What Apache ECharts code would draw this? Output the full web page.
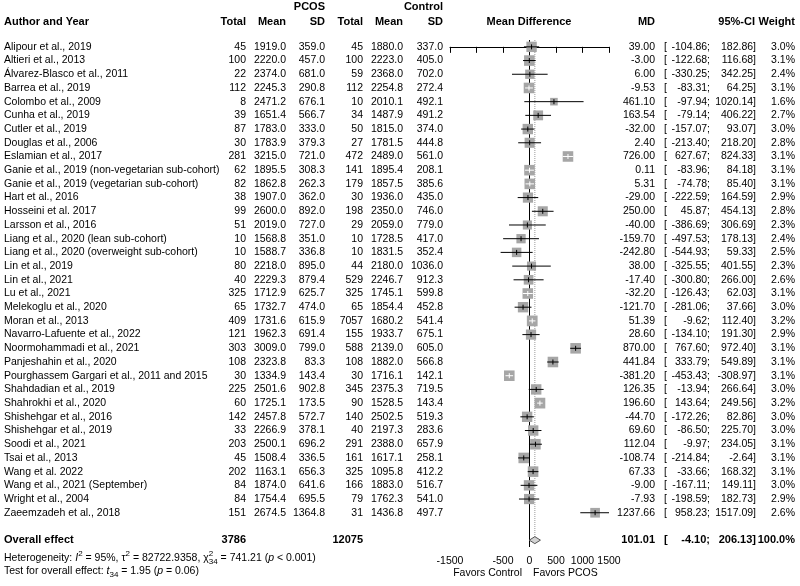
<!DOCTYPE html>
<html>
<head>
<meta charset="utf-8">
<script src="https://cdn.jsdelivr.net/npm/echarts@6/dist/echarts.min.js"></script>
<style>
html,body{margin:0;padding:0;background:#fff;}
#main{width:800px;height:586px;}
</style>
</head>
<body>
<div id="main"></div>
<script>
// study table
var authors = ['Alipour et al., 2019', 'Altieri et al., 2013', 'Álvarez-Blasco et al., 2011', 'Barrea et al., 2019',
  'Colombo et al., 2009', 'Cunha et al., 2019', 'Cutler et al., 2019', 'Douglas et al., 2006', 'Eslamian et al., 2017',
  'Ganie et al., 2019 (non-vegetarian sub-cohort)', 'Ganie et al., 2019 (vegetarian sub-cohort)', 'Hart et al., 2016',
  'Hosseini et al. 2017', 'Larsson et al., 2016', 'Liang et al., 2020 (lean sub-cohort)',
  'Liang et al., 2020 (overweight sub-cohort)', 'Lin et al., 2019', 'Lin et al., 2021', 'Lu et al., 2021',
  'Melekoglu et al., 2020', 'Moran et al., 2013', 'Navarro-Lafuente et al., 2022', 'Noormohammadi et al., 2021',
  'Panjeshahin et al., 2020', 'Pourghassem Gargari et al., 2011 and 2015', 'Shahdadian et al., 2019',
  'Shahrokhi et al., 2020', 'Shishehgar et al., 2016', 'Shishehgar et al., 2019', 'Soodi et al., 2021',
  'Tsai et al., 2013', 'Wang et al. 2022', 'Wang et al., 2021 (September)', 'Wright et al., 2004',
  'Zaeemzadeh et al., 2018'];
var pcosN = [45, 100, 22, 112, 8, 39, 87, 30, 281, 62, 82, 38, 99, 51, 10, 10, 80, 40, 325, 65, 409, 121, 303, 108, 30, 225, 60, 142, 33, 203, 45, 202, 84, 84, 151];
var pcosMean = [1919.0, 2220.0, 2374.0, 2245.3, 2471.2, 1651.4, 1783.0, 1783.9, 3215.0, 1895.5, 1862.8, 1907.0, 2600.0, 2019.0, 1568.8, 1588.7, 2218.0, 2229.3, 1712.9, 1732.7, 1731.6, 1962.3, 3009.0, 2323.8, 1334.9, 2501.6, 1725.1, 2457.8, 2266.9, 2500.1, 1508.4, 1163.1, 1874.0, 1754.4, 2674.5];
var pcosSD = [359.0, 457.0, 681.0, 290.8, 676.1, 566.7, 333.0, 379.3, 721.0, 308.3, 262.3, 362.0, 892.0, 727.0, 351.0, 336.8, 895.0, 879.4, 625.7, 474.0, 615.9, 691.4, 799.0, 83.3, 143.4, 902.8, 173.5, 572.7, 378.1, 696.2, 336.5, 656.3, 641.6, 695.5, 1364.8];
var ctrlN = [45, 100, 59, 112, 10, 34, 50, 27, 472, 141, 179, 30, 198, 29, 10, 10, 44, 529, 325, 65, 7057, 155, 588, 108, 30, 345, 90, 140, 40, 291, 161, 325, 166, 79, 31];
var ctrlMean = [1880.0, 2223.0, 2368.0, 2254.8, 2010.1, 1487.9, 1815.0, 1781.5, 2489.0, 1895.4, 1857.5, 1936.0, 2350.0, 2059.0, 1728.5, 1831.5, 2180.0, 2246.7, 1745.1, 1854.4, 1680.2, 1933.7, 2139.0, 1882.0, 1716.1, 2375.3, 1528.5, 2502.5, 2197.3, 2388.0, 1617.1, 1095.8, 1883.0, 1762.3, 1436.8];
var ctrlSD = [337.0, 405.0, 702.0, 272.4, 492.1, 491.2, 374.0, 444.8, 561.0, 208.1, 385.6, 435.0, 746.0, 779.0, 417.0, 352.4, 1036.0, 912.3, 599.8, 452.8, 541.4, 675.1, 605.0, 566.8, 142.1, 719.5, 143.4, 519.3, 283.6, 657.9, 258.1, 412.2, 516.7, 541.0, 497.7];
var md = [39.00, -3.00, 6.00, -9.53, 461.10, 163.54, -32.00, 2.40, 726.00, 0.11, 5.31, -29.00, 250.00, -40.00, -159.70, -242.80, 38.00, -17.40, -32.20, -121.70, 51.39, 28.60, 870.00, 441.84, -381.20, 126.35, 196.60, -44.70, 69.60, 112.04, -108.74, 67.33, -9.00, -7.93, 1237.66];
var ciLo = [-104.86, -122.68, -330.25, -83.31, -97.94, -79.14, -157.07, -213.40, 627.67, -83.96, -74.78, -222.59, 45.87, -386.69, -497.53, -544.93, -325.55, -300.80, -126.43, -281.06, -9.62, -134.10, 767.60, 333.79, -453.43, -13.94, 143.64, -172.26, -86.50, -9.97, -214.84, -33.66, -167.11, -198.59, 958.23];
var ciHi = [182.86, 116.68, 342.25, 64.25, 1020.14, 406.22, 93.07, 218.20, 824.33, 84.18, 85.40, 164.59, 454.13, 306.69, 178.13, 59.33, 401.55, 266.00, 62.03, 37.66, 112.40, 191.30, 972.40, 549.89, -308.97, 266.64, 249.56, 82.86, 225.70, 234.05, -2.64, 168.32, 149.11, 182.73, 1517.09];
var weight = [3.0, 3.1, 2.4, 3.1, 1.6, 2.7, 3.0, 2.8, 3.1, 3.1, 3.1, 2.9, 2.8, 2.3, 2.4, 2.5, 2.3, 2.6, 3.1, 3.0, 3.2, 2.9, 3.1, 3.1, 3.1, 3.0, 3.2, 3.0, 3.0, 3.1, 3.1, 3.1, 3.0, 2.9, 2.6];

// pooled result
var totalPcos = 3786;
var totalCtrl = 12075;
var overallMD = 101.01;
var overallLo = -4.10;
var overallHi = 206.13;
var overallRow = 36;
var i2 = '95%', tau2 = '82722.9358', chi2 = '741.21', dfHet = '34', pHet = '< 0.001';
var tStat = '1.95', pOverall = '= 0.06';

var axisTicks = [-1500, -1000, -500, 0, 500, 1000, 1500];
var hiddenTickLabels = [-1000];

var FONT = '"Liberation Sans", Arial, sans-serif';
var FS = 10.5;   // body
var FSB = 11;    // bold headers
var COL = {author: 4, pN: 246, pM: 286, pS: 325, cN: 363, cM: 403, cS: 443,
  md: 655, ciB: 664, ciL: 710, ciH: 756, w: 795};

function txt(x, y, s, align, bold) {
  return {type: 'text', x: x, y: y, style: {text: s, align: align, verticalAlign: 'middle',
    fontFamily: FONT, fontSize: bold ? FSB : FS, fontWeight: bold ? 'bold' : 'normal', fill: '#000'}};
}

var measure = document.createElement('canvas').getContext('2d');
function runText(parts, x0, y) {
  var x = x0, out = [];
  parts.forEach(function (p) {
    var size = p.size || FS;
    var font = (p.italic ? 'italic ' : '') + size + 'px ' + FONT;
    measure.font = font;
    out.push({type: 'text', x: x, y: y + (p.dy || 0), style: {text: p.t, font: font, fill: '#000', verticalAlign: 'middle'}});
    if (!p.stack) x += measure.measureText(p.t).width;
  });
  return out;
}

var myChart = echarts.init(document.getElementById('main'));

var tableData = authors.map(function (a, i) { return [0, i]; });
tableData.push([0, overallRow]);
var forestData = md.map(function (m, i) { return [m, ciLo[i], ciHi[i], weight[i], i]; });

var headers = [
  txt(COL.pS, 7, 'PCOS', 'right', true),
  txt(COL.cS, 7, 'Control', 'right', true),
  txt(COL.author, 22, 'Author and Year', 'left', true),
  txt(COL.pN, 22, 'Total', 'right', true),
  txt(COL.pM, 22, 'Mean', 'right', true),
  txt(COL.pS, 22, 'SD', 'right', true),
  txt(COL.cN, 22, 'Total', 'right', true),
  txt(COL.cM, 22, 'Mean', 'right', true),
  txt(COL.cS, 22, 'SD', 'right', true),
  txt(529, 22, 'Mean Difference', 'center', true),
  txt(COL.md, 22, 'MD', 'right', true),
  txt(755, 22, '95%-CI', 'right', true),
  txt(COL.w, 22, 'Weight', 'right', true),
  txt(522, 573, 'Favors Control', 'right', false),
  txt(533, 573, 'Favors PCOS', 'left', false)
];
var hetLine = runText([
  {t: 'Heterogeneity: '}, {t: 'I', italic: true}, {t: '2', size: 8, dy: -4}, {t: ' = ' + i2 + ', τ'},
  {t: '2', size: 8, dy: -4}, {t: ' = ' + tau2 + ', χ'}, {t: '2', size: 8, dy: -4, stack: true},
  {t: dfHet, size: 8, dy: 4}, {t: ' = ' + chi2 + ' ('}, {t: 'p', italic: true}, {t: ' ' + pHet + ')'}
], COL.author, 558);
var testLine = runText([
  {t: 'Test for overall effect: '}, {t: 't', italic: true}, {t: dfHet, size: 8, dy: 4},
  {t: ' = ' + tStat + ' ('}, {t: 'p', italic: true}, {t: ' ' + pOverall + ')'}
], COL.author, 571);

var option = {
  backgroundColor: '#fff',
  animation: false,
  grid: {left: 450, right: 191, top: 40, bottom: 39},
  xAxis: {
    type: 'value', min: -1500, max: 1500, interval: 500,
    axisLine: {show: true, lineStyle: {color: '#000', width: 1}},
    axisTick: {show: true, length: 6, lineStyle: {color: '#000'}},
    axisLabel: {color: '#000', fontSize: FS, fontFamily: FONT, margin: 9,
      formatter: function (v) { return hiddenTickLabels.indexOf(v) >= 0 ? '' : String(v); }},
    splitLine: {show: false}
  },
  yAxis: {type: 'value', min: -0.5, max: 36.5, inverse: true, show: false},
  graphic: headers.concat(hetLine, testLine),
  series: [
    {
      type: 'line', silent: true, symbol: 'none', z: 1,
      lineStyle: {color: '#000', width: 1},
      data: [[0, -0.5], [0, 36.5]]
    },
    {
      type: 'line', silent: true, symbol: 'none', z: 1,
      lineStyle: {color: '#9a9a9a', width: 1, type: 'dotted'},
      data: [[overallMD, -0.5], [overallMD, overallRow]]
    },
    {
      type: 'custom', silent: true, z: 3,
      encode: {x: [0, 1, 2], y: 4},
      data: forestData,
      renderItem: function (params, api) {
        var row = api.value(4);
        var p = api.coord([api.value(0), row]);
        var l = api.coord([Math.max(api.value(1), -1500), row]);
        var h = api.coord([Math.min(api.value(2), 1500), row]);
        var side = 6 * Math.sqrt(api.value(3));
        var col = (h[0] - l[0]) <= side ? '#fff' : '#000';
        return {type: 'group', children: [
          {type: 'rect', shape: {x: p[0] - side / 2, y: p[1] - side / 2, width: side, height: side},
            style: {fill: '#a6a6a6'}},
          {type: 'line', shape: {x1: l[0], y1: p[1], x2: h[0], y2: p[1]}, style: {stroke: col, lineWidth: 1}},
          {type: 'line', shape: {x1: p[0], y1: p[1] - 2.5, x2: p[0], y2: p[1] + 2.5}, style: {stroke: col, lineWidth: 1}}
        ]};
      }
    },
    {
      type: 'custom', silent: true, z: 3,
      encode: {x: [0, 1, 2], y: 3},
      data: [[overallMD, overallLo, overallHi, overallRow]],
      renderItem: function (params, api) {
        var row = api.value(3);
        var c = api.coord([api.value(0), row]);
        var l = api.coord([api.value(1), row]);
        var h = api.coord([api.value(2), row]);
        return {type: 'polygon', shape: {points: [[l[0], c[1]], [c[0], c[1] - 3.5], [h[0], c[1]], [c[0], c[1] + 3.5]]},
          style: {fill: '#d3d3d3', stroke: '#555', lineWidth: 1}};
      }
    },
    {
      type: 'custom', silent: true, z: 4,
      encode: {x: 0, y: 1},
      data: tableData,
      renderItem: function (params, api) {
        var i = params.dataIndex;
        var y = api.coord([0, api.value(1)])[1];
        if (i < authors.length) {
          return {type: 'group', children: [
            txt(COL.author, y, authors[i], 'left'),
            txt(COL.pN, y, String(pcosN[i]), 'right'),
            txt(COL.pM, y, pcosMean[i].toFixed(1), 'right'),
            txt(COL.pS, y, pcosSD[i].toFixed(1), 'right'),
            txt(COL.cN, y, String(ctrlN[i]), 'right'),
            txt(COL.cM, y, ctrlMean[i].toFixed(1), 'right'),
            txt(COL.cS, y, ctrlSD[i].toFixed(1), 'right'),
            txt(COL.md, y, md[i].toFixed(2), 'right'),
            txt(COL.ciB, y, '[', 'left'),
            txt(COL.ciL, y, ciLo[i].toFixed(2) + ';', 'right'),
            txt(COL.ciH, y, ciHi[i].toFixed(2) + ']', 'right'),
            txt(COL.w, y, weight[i].toFixed(1) + '%', 'right')
          ]};
        }
        return {type: 'group', children: [
          txt(COL.author, y, 'Overall effect', 'left', true),
          txt(COL.pN, y, String(totalPcos), 'right', true),
          txt(COL.cN, y, String(totalCtrl), 'right', true),
          txt(COL.md, y, overallMD.toFixed(2), 'right', true),
          txt(COL.ciB, y, '[', 'left', true),
          txt(COL.ciL, y, overallLo.toFixed(2) + ';', 'right', true),
          txt(COL.ciH, y, overallHi.toFixed(2) + ']', 'right', true),
          txt(COL.w, y, '100.0%', 'right', true)
        ]};
      }
    }
  ]
};
myChart.setOption(option);
</script>
</body>
</html>
